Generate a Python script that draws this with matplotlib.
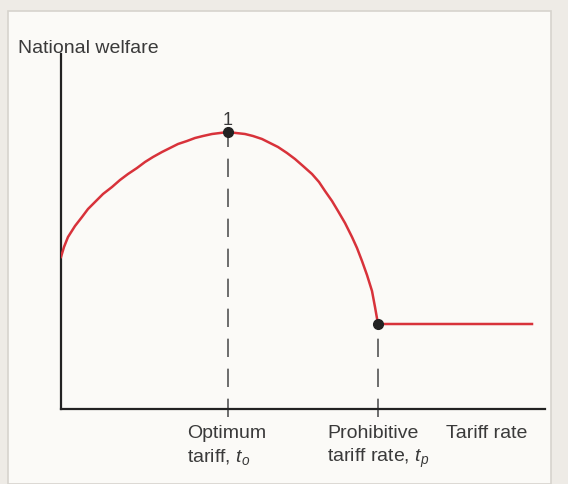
import matplotlib
matplotlib.use('Agg')
import matplotlib.pyplot as plt
from matplotlib.patches import Rectangle

plt.rcParams['font.family'] = ['Liberation Sans', 'DejaVu Sans']
plt.rcParams['mathtext.fontset'] = 'custom'
plt.rcParams['mathtext.it'] = 'Liberation Sans:italic'
plt.rcParams['mathtext.rm'] = 'Liberation Sans'

# welfare curve (tariff, welfare), arbitrary units
tariff  = [0, 3, 7, 14, 21, 27, 34, 42, 51, 59, 67, 76, 84, 92, 101, 109, 117, 126,
           134, 142, 151, 159, 167,
           175, 184, 192, 201, 209, 217, 226, 234, 242, 251, 258, 264, 271, 277,
           284, 291, 296, 301, 306, 311, 314, 317, 471]
welfare = [152, 162, 172, 183, 192, 200, 207, 215, 222, 229, 235, 241, 247, 252, 257,
           261, 265, 268, 271, 273, 275, 276, 277,
           276, 275, 273, 270, 266, 262, 256, 250, 243, 235, 227, 218, 208, 198,
           186, 172, 161, 148, 134, 118, 102, 85, 85]

t_opt   = 167    # optimum tariff
w_opt   = 277
t_pro   = 317    # prohibitive tariff
w_pro   = 85

x_max   = 484
y_max   = 355

txt     = '#3a3a3a'
W, H    = 568, 485

fig = plt.figure(figsize=(W/100, H/100), dpi=100)
fig.patch.set_facecolor('#eeebe6')
panel = Rectangle((8/W, 0), (551-8)/W, (H-12)/H, transform=fig.transFigure,
                  facecolor='#fbfaf7', edgecolor='#d6d3cd', linewidth=1.2, zorder=-1)
fig.patches.append(panel)

ax = fig.add_axes([61/W, (H-410)/H, 484/W, 355/H], zorder=2)
ax.set_facecolor('none')
ax.set_xlim(0, x_max)
ax.set_ylim(0, y_max)
for s in ['top', 'right']:
    ax.spines[s].set_visible(False)
for s in ['left', 'bottom']:
    ax.spines[s].set_linewidth(1.6)
    ax.spines[s].set_color('#222222')
ax.set_xticks([])
ax.set_yticks([])

ax.plot(tariff, welfare, color='#d8323a', lw=1.8, solid_joinstyle='round', zorder=3)

for t, w in [(t_opt, w_opt), (t_pro, w_pro)]:
    ax.plot([t, t], [-8, w], color='#555555', lw=1.2, dashes=(11, 7), clip_on=False, zorder=2)
ax.plot([t_opt, t_pro], [w_opt, w_pro], 'o', color='#222222', ms=7, zorder=4)

ax.text(t_opt, w_opt + 8, '1', color=txt, fontsize=13, ha='center', va='baseline')

def label(x, y, s):
    fig.text(x/W, 1 - y/H, s, color=txt, fontsize=14, ha='left', va='baseline', zorder=3)

label(18, 53, 'National welfare')
label(187, 438, 'Optimum')
label(187, 462, 'tariff, $t_o$')
label(327, 438, 'Prohibitive')
label(327, 462, 'tariff rate, $t_p$')
label(446, 438, 'Tariff rate')

fig.savefig('out.png', dpi=100, facecolor=fig.get_facecolor())
